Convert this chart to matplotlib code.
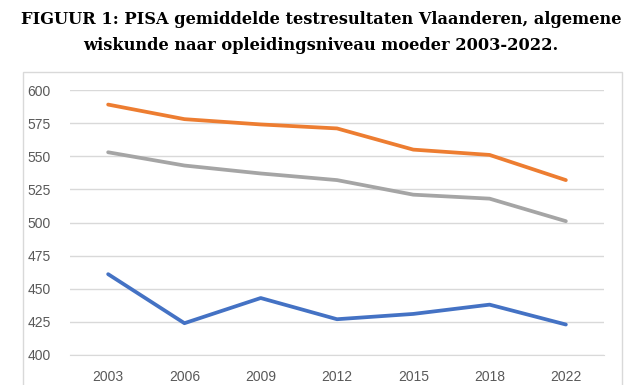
import matplotlib
matplotlib.use("Agg")
import matplotlib.pyplot as plt
from matplotlib.patches import Rectangle

years = ["2003", "2006", "2009", "2012", "2015", "2018", "2022"]
hoog = [589, 578, 574, 571, 555, 551, 532]
midden = [553, 543, 537, 532, 521, 518, 501]
laag = [461, 424, 443, 427, 431, 438, 423]
yticks = [400, 425, 450, 475, 500, 525, 550, 575, 600]

fig = plt.figure(figsize=(6.42, 3.85), dpi=100)
fig.patch.set_facecolor("white")

# chart frame
fig.patches.append(Rectangle((23/642, -0.05), (622-23)/642, 1.05 - 72/385,
                             transform=fig.transFigure, fill=False,
                             edgecolor="#d9d9d9", linewidth=1.0))

fig.text(0.5, 1 - 19/385, "FIGUUR 1: PISA gemiddelde testresultaten Vlaanderen, algemene",
         ha="center", va="center", fontsize=11.7, fontweight="bold", family="DejaVu Serif")
fig.text(0.5, 1 - 45/385, "wiskunde naar opleidingsniveau moeder 2003-2022.",
         ha="center", va="center", fontsize=11.7, fontweight="bold", family="DejaVu Serif")

ax = fig.add_axes([70/642, 1 - 355/385, (604-70)/642, (355-90)/385])
x = list(range(len(years)))
ax.plot(x, hoog, color="#ED7D31", linewidth=2.7, solid_capstyle="round")
ax.plot(x, midden, color="#A5A5A5", linewidth=2.7, solid_capstyle="round")
ax.plot(x, laag, color="#4472C4", linewidth=2.7, solid_capstyle="round")

ax.set_xlim(-0.5, len(years) - 0.5)
ax.set_ylim(400, 600)
ax.set_yticks(yticks)
ax.set_xticks(x)
ax.set_xticklabels(years)
ax.grid(axis="y", color="#d9d9d9", linewidth=1.0)
ax.set_axisbelow(True)
for s in ax.spines.values():
    s.set_visible(False)
ax.spines["bottom"].set_visible(True)
ax.spines["bottom"].set_color("#d9d9d9")
ax.tick_params(axis="both", length=0, labelsize=10, colors="#595959")
ax.tick_params(axis="y", pad=14)
ax.tick_params(axis="x", pad=11)
for lab in ax.get_xticklabels() + ax.get_yticklabels():
    lab.set_family("Liberation Sans")

fig.savefig("out.png", dpi=100)
